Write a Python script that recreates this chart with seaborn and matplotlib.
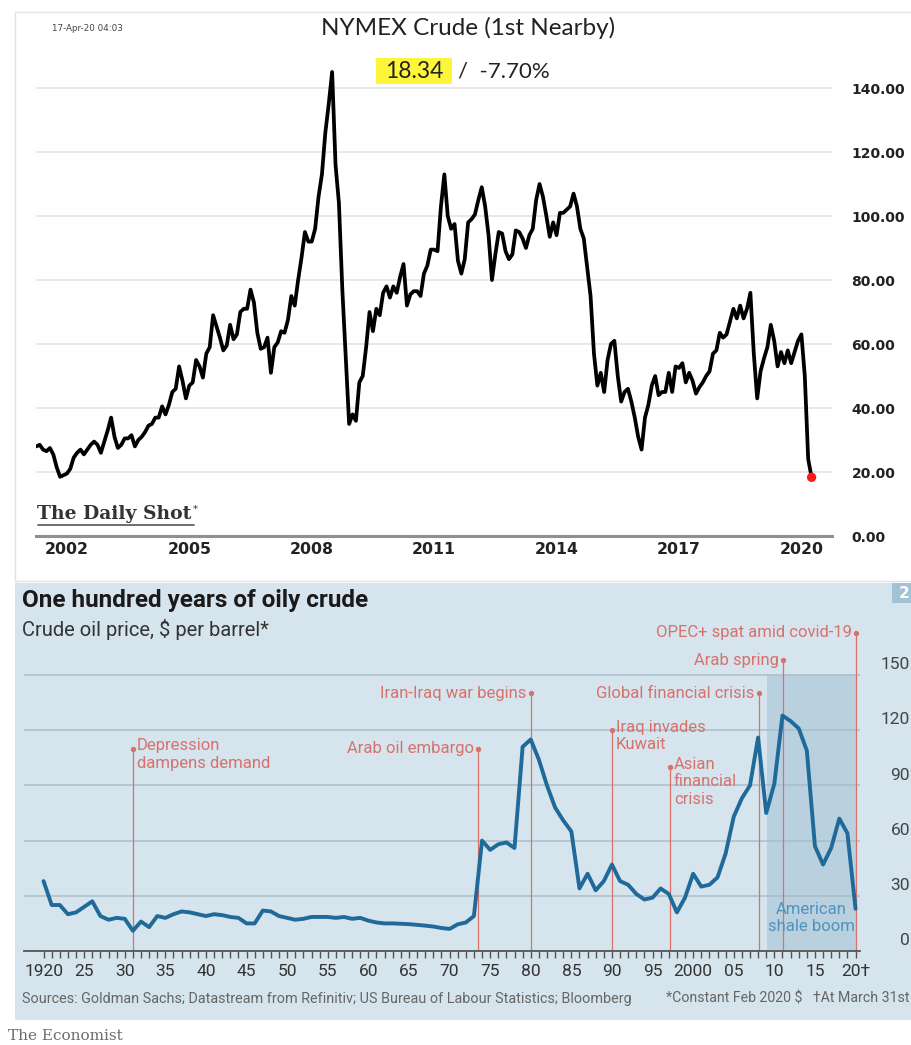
import matplotlib
matplotlib.use("Agg")
import matplotlib.pyplot as plt
from matplotlib.patches import Rectangle
from matplotlib.lines import Line2D
from matplotlib import font_manager
import seaborn as sns
import pandas as pd

# NYMEX crude, 1st nearby, monthly readings from the chart (Apr 2001 - Apr 2020)
nymex_2001 = [28.0, 28.5, 27.0, 26.5, 27.5, 25.5, 21.5, 18.5, 19.0]
nymex_2002 = [19.5, 21.0, 24.5, 26.0, 27.0, 25.5, 27.0, 28.5, 29.5, 28.5, 26.0, 29.5]
nymex_2003 = [33.0, 37.0, 31.0, 27.5, 28.5, 30.5, 30.5, 31.5, 28.0, 30.0, 31.0, 32.5]
nymex_2004 = [34.5, 35.0, 37.0, 37.0, 40.5, 38.0, 41.0, 45.0, 46.0, 53.0, 48.5, 43.0]
nymex_2005 = [47.0, 48.0, 55.0, 53.0, 49.5, 57.0, 59.0, 69.0, 65.5, 62.0, 58.0, 59.5]
nymex_2006 = [66.0, 61.5, 63.0, 70.0, 71.0, 71.0, 77.0, 73.0, 63.5, 58.5, 59.0, 62.0]
nymex_2007 = [51.0, 59.0, 60.5, 64.0, 63.5, 67.5, 75.0, 72.0, 80.0, 87.0, 95.0, 92.0]
nymex_2008 = [92.0, 96.0, 106.0, 113.0, 126.0, 135.0, 145.0, 116.0, 104.0, 77.0, 56.0, 35.0]
nymex_2009 = [38.0, 36.0, 48.0, 50.0, 59.0, 70.0, 64.0, 71.0, 69.0, 76.0, 78.0, 74.5]
nymex_2010 = [78.0, 76.0, 81.0, 85.0, 72.0, 75.5, 76.5, 76.5, 75.0, 82.0, 84.5, 89.5]
nymex_2011 = [89.5, 89.0, 103.0, 113.0, 100.0, 96.0, 97.5, 86.0, 82.0, 86.5, 98.0, 99.0]
nymex_2012 = [100.5, 105.0, 109.0, 103.0, 94.0, 80.0, 88.0, 95.0, 94.5, 89.0, 86.5, 88.0]
nymex_2013 = [95.5, 95.0, 93.0, 90.0, 94.0, 96.0, 105.0, 110.0, 106.0, 100.0, 93.5, 98.0]
nymex_2014 = [94.0, 101.0, 101.0, 102.0, 103.0, 107.0, 103.0, 96.0, 93.0, 84.0, 75.0, 57.0]
nymex_2015 = [47.0, 51.0, 45.0, 55.0, 60.0, 61.0, 50.0, 42.0, 45.0, 46.0, 42.0, 37.0]
nymex_2016 = [31.0, 27.0, 37.0, 41.0, 47.0, 50.0, 44.0, 45.0, 45.0, 51.0, 45.0, 53.0]
nymex_2017 = [52.5, 54.0, 48.0, 51.0, 48.5, 44.5, 46.5, 48.0, 50.0, 51.5, 57.0, 58.0]
nymex_2018 = [63.5, 62.0, 63.0, 67.0, 71.0, 68.0, 72.0, 68.0, 71.0, 76.0, 57.0, 43.0]
nymex_2019 = [51.5, 55.5, 59.0, 66.0, 61.0, 53.0, 57.5, 54.0, 58.0, 54.0, 57.5, 61.0]
nymex_2020 = [63.0, 50.0, 24.0, 18.34]
nymex_price = (nymex_2001 + nymex_2002 + nymex_2003 + nymex_2004 + nymex_2005
               + nymex_2006 + nymex_2007 + nymex_2008 + nymex_2009 + nymex_2010
               + nymex_2011 + nymex_2012 + nymex_2013 + nymex_2014 + nymex_2015
               + nymex_2016 + nymex_2017 + nymex_2018 + nymex_2019 + nymex_2020)
nymex_dates = pd.date_range("2001-04-01", periods=len(nymex_price), freq="MS")
nymex_xticks = [2002, 2005, 2008, 2011, 2014, 2017, 2020]
nymex_yticks = [0, 20, 40, 60, 80, 100, 120, 140]
last_price = "18.34"
last_change = "-7.70%"
stamp = "17-Apr-20 04:03"

# The Economist: annual crude price, constant Feb 2020 $
econ_years = list(range(1920, 2021))
econ_price = [38, 25, 25, 20, 21, 24, 27, 19, 17, 18,
              17.5, 11, 16, 13, 19, 18, 20, 21.5, 21, 20,
              19, 20, 19.5, 18.5, 18, 15, 15, 22, 21.5, 19,
              18, 17, 17.5, 18.5, 18.5, 18.5, 18, 18.5, 17.5, 18,
              16.5, 15.5, 15, 15, 14.8, 14.6, 14.2, 13.8, 13.3, 12.5,
              12, 14.5, 15.5, 19, 60, 55, 58, 59, 56, 111,
              115, 104, 90, 78, 71, 65, 34, 42, 33, 38,
              47, 38, 36, 31, 28, 29, 34, 31, 21, 29,
              42, 35, 36, 40, 53, 73, 83, 90, 116, 75,
              91, 128, 125, 121, 109, 57, 47, 56, 72, 64,
              23]
event_year = [1931, 1973.5, 1980, 1990, 1997.1, 2008.1, 2011.1, 2020.1]
event_top = [110, 110, 140, 120, 100, 140, 158, 173]
event_label = ["Depression\ndampens demand", "Arab oil embargo", "Iran-Iraq war begins",
               "Iraq invades\nKuwait", "Asian\nfinancial\ncrisis", "Global financial crisis",
               "Arab spring", "OPEC+ spat amid covid-19"]
event_side = ["right", "left", "left", "right", "right", "left", "left", "left"]
shale_start, shale_end = 2009.1, 2020.1
econ_yticks = [0, 30, 60, 90, 120, 150]
econ_xticks = list(range(1920, 2021, 5))
econ_xlabels = ["1920", "25", "30", "35", "40", "45", "50", "55", "60", "65", "70",
                "75", "80", "85", "90", "95", "2000", "05", "10", "15", "20\u2020"]

sns.set_theme(style="white")
plt.rcParams["font.family"] = ["DejaVu Sans"]

names = {f.name for f in font_manager.fontManager.ttflist}
narrow = "Liberation Sans Narrow" if "Liberation Sans Narrow" in names else "Roboto"
sansA = "Lato" if "Lato" in names else "DejaVu Sans"

W, H = 912, 1045


def fx(px):
    return px / W


def fy(py):
    return 1 - py / H


fig = plt.figure(figsize=(W / 100, H / 100), dpi=100)
fig.patch.set_facecolor("white")

# panel backgrounds
fig.patches.append(Rectangle((fx(15), fy(581)), fx(912) - fx(15), fy(12) - fy(581),
                             transform=fig.transFigure, facecolor="white",
                             edgecolor="#e2e2e2", lw=1, zorder=-10))
fig.patches.append(Rectangle((fx(15), fy(1020)), fx(912) - fx(15), fy(583) - fy(1020),
                             transform=fig.transFigure, facecolor="#d5e4ed",
                             edgecolor="none", zorder=-10))
fig.patches.append(Rectangle((fx(892), fy(603)), fx(912) - fx(892), fy(583) - fy(603),
                             transform=fig.transFigure, facecolor="#a2c2d6",
                             edgecolor="none", zorder=-9))
fig.text(fx(904), fy(593), "2", color="white", fontsize=11, fontweight="bold",
         ha="center", va="center")

# ---------------- top: NYMEX ----------------
axA = fig.add_axes([fx(36), fy(536), fx(832) - fx(36), fy(60) - fy(536)])
nymex_x = nymex_dates.year + (nymex_dates.month - 1) / 12
sns.lineplot(x=nymex_x, y=nymex_price, ax=axA, color="black", lw=2.7)
sns.scatterplot(x=[nymex_x[-1]], y=[nymex_price[-1]], ax=axA, color="#ff1a1a", s=45,
                edgecolor="none", zorder=5)
axA.set_xlim(2001.243, 2020.75)
axA.set_ylim(0, 148.75)
axA.set_facecolor("none")
axA.set_xticks(nymex_xticks)
axA.set_xticklabels([str(t) for t in nymex_xticks], fontweight="bold", fontsize=11.3,
                    color="#222222")
axA.set_yticks(nymex_yticks)
axA.set_yticklabels([f"{t:.2f}" for t in nymex_yticks], fontweight="bold", fontsize=10,
                    color="#222222")
axA.yaxis.tick_right()
axA.tick_params(axis="y", length=0, pad=14)
axA.tick_params(axis="x", direction="in", length=5, width=1.2, color="#777777", pad=4)
axA.grid(axis="y", color="#e4e4e4", lw=1.2)
axA.set_axisbelow(True)
for side in ["top", "left", "right"]:
    axA.spines[side].set_visible(False)
axA.spines["bottom"].set_color("#8f8f8f")
axA.spines["bottom"].set_linewidth(2.2)
axA.set_xlabel("")
axA.set_ylabel("")

fig.text(fx(468), fy(28), "NYMEX Crude (1st Nearby)", fontsize=17.5, family=sansA,
         ha="center", va="center", color="#222222")
fig.text(fx(52), fy(29), stamp, fontsize=6.3, ha="left", va="center", color="#444444")
fig.patches.append(Rectangle((fx(376), fy(84)), fx(452) - fx(376), fy(58) - fy(84),
                             transform=fig.transFigure, facecolor="#fdf53a",
                             edgecolor="none", zorder=-5))
fig.text(fx(414), fy(71), last_price, fontsize=16.5, family=sansA, ha="center",
         va="center", color="#222222")
fig.text(fx(458), fy(71), "/  " + last_change, fontsize=16, family=sansA, ha="left",
         va="center", color="#222222")
fig.text(fx(37), fy(514), "The Daily Shot", fontsize=13.5, family="DejaVu Serif",
         fontweight="bold", ha="left", va="center", color="#333333")
fig.text(fx(193), fy(509), "*", fontsize=7, family="DejaVu Serif", ha="left",
         va="center", color="#333333")
fig.add_artist(Line2D([fx(38), fx(194)], [fy(525), fy(525)], color="#555555", lw=1.2))

# ---------------- bottom: The Economist ----------------
econ_blue = "#1f6a99"
econ_red = "#d8716b"
axB = fig.add_axes([fx(24), fy(951), fx(860) - fx(24), fy(630) - fy(951)])
axB.set_facecolor("none")
axB.set_xlim(1917.59, 2020.55)
axB.set_ylim(0, 174.5)
axB.add_patch(Rectangle((shale_start, 0), shale_end - shale_start, 150,
                        facecolor="#b9d0df", edgecolor="none", zorder=0.2))
axB.set_yticks(econ_yticks)
axB.set_yticklabels([])
axB.grid(axis="y", color="#a9bdca", lw=1.1)
axB.set_axisbelow(True)
for yv in econ_yticks:
    axB.text(1 + (910 - 860) / 836, yv + 1.5, str(yv), transform=axB.get_yaxis_transform(),
             ha="right", va="bottom", fontsize=12.5, family=narrow, color="#444444")
axB.tick_params(axis="y", length=0)

for yr, top, lab, side in zip(event_year, event_top, event_label, event_side):
    axB.plot([yr, yr], [0, top], color=econ_red, lw=0.9, zorder=1)
    axB.plot([yr], [top], marker="o", ms=2.8, color=econ_red, zorder=1)
    if side == "left":
        axB.annotate(lab, (yr, top), xytext=(-3, 0), textcoords="offset points",
                     ha="right", va="center", fontsize=12, family=narrow, color=econ_red)
    else:
        axB.annotate(lab, (yr, top), xytext=(3, 7.5), textcoords="offset points",
                     ha="left", va="top", fontsize=12, family=narrow, color=econ_red,
                     linespacing=1.22)

sns.lineplot(x=econ_years, y=econ_price, ax=axB, color=econ_blue, lw=2.8, zorder=3)
axB.text((shale_start + shale_end) / 2, 18, "American\nshale boom", ha="center",
         va="center", fontsize=12, family=narrow, color="#4f93bd", linespacing=1.22)

axB.set_xticks(econ_xticks)
axB.set_xticklabels(econ_xlabels, fontsize=12.5, family=narrow, color="#333333")
axB.set_xticks(econ_years, minor=True)
axB.tick_params(axis="x", which="both", direction="out", length=5, width=1,
                color="#555555", pad=4, bottom=True)
for side in ["top", "left", "right"]:
    axB.spines[side].set_visible(False)
axB.spines["bottom"].set_color("#555555")
axB.spines["bottom"].set_linewidth(1.3)
axB.set_xlabel("")
axB.set_ylabel("")

fig.text(fx(22), fy(600), "One hundred years of oily crude", fontsize=17.5,
         fontweight="bold", family=narrow, ha="left", va="center", color="#1a1a1a")
fig.text(fx(22), fy(629), "Crude oil price, $ per barrel*", fontsize=14.5, family=narrow,
         ha="left", va="center", color="#333333")
fig.text(fx(22), fy(999), "Sources: Goldman Sachs; Datastream from Refinitiv; US Bureau of "
         "Labour Statistics; Bloomberg", fontsize=10.4, family=narrow, ha="left",
         va="center", color="#666666")
fig.text(fx(910), fy(999), "*Constant Feb 2020 $   \u2020At March 31st", fontsize=10.2,
         family=narrow, ha="right", va="center", color="#666666")
fig.text(fx(8), fy(1036), "The Economist", fontsize=11, family="DejaVu Serif",
         ha="left", va="center", color="#6a6a6a")

fig.savefig("out.png", dpi=100)
